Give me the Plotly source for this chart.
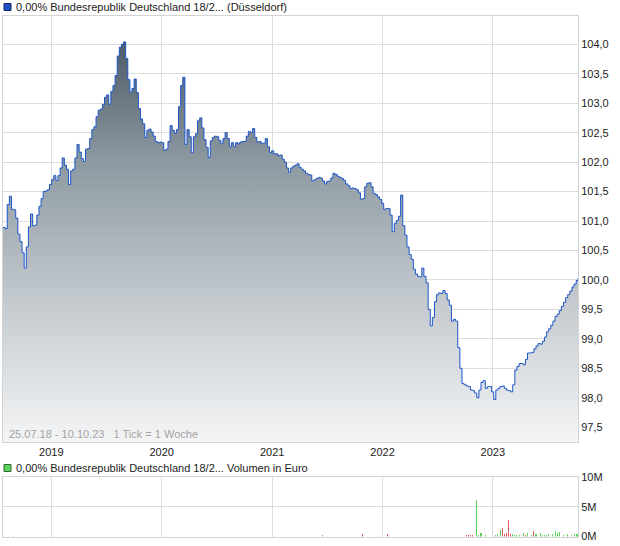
import pandas as pd
import plotly.graph_objects as go

# ---------------- data ----------------
start_date = "2018-07-25"
end_date = "2023-10-10"

prices = [
    100.89, 100.87, 101.28, 101.42, 101.20, 101.19, 101.05, 100.78, 100.65, 100.46,
    100.20, 100.56, 100.90, 101.12, 100.92, 100.93, 101.10, 101.25, 101.38, 101.50,
    101.51, 101.53, 101.62, 101.70, 101.77, 101.69, 101.77, 101.90, 102.07, 101.95,
    101.88, 101.62, 101.85, 101.88, 102.07, 102.30, 102.17, 102.06, 102.01, 102.22,
    102.23, 102.40, 102.55, 102.60, 102.77, 102.88, 102.90, 102.98, 103.10, 103.14,
    102.98, 103.20, 103.30, 103.47, 103.80, 103.95, 104.00, 104.04, 103.76, 103.40,
    103.19, 103.25, 103.41, 103.18, 102.91, 102.73, 102.65, 102.42, 102.54, 102.56,
    102.51, 102.44, 102.35, 102.33, 102.34, 102.33, 102.20, 102.22, 102.35, 102.62,
    102.54, 102.49, 102.55, 102.94, 103.30, 103.44, 102.30, 102.55, 102.43, 102.16,
    102.43, 102.48, 102.70, 102.75, 102.58, 102.38, 102.25, 102.08, 102.36, 102.42,
    102.44, 102.43, 102.37, 102.31, 102.40, 102.50, 102.40, 102.26, 102.33, 102.26,
    102.33, 102.31, 102.34, 102.35, 102.35, 102.44, 102.52, 102.50, 102.57, 102.42,
    102.34, 102.35, 102.32, 102.32, 102.40, 102.26, 102.16, 102.19, 102.14, 102.14,
    102.11, 102.12, 102.05, 102.00, 101.90, 101.83, 101.90, 101.93, 101.95, 101.97,
    101.91, 101.88, 101.85, 101.81, 101.79, 101.78, 101.68, 101.70, 101.72, 101.74,
    101.73, 101.68, 101.63, 101.67, 101.68, 101.73, 101.81, 101.79, 101.76, 101.74,
    101.72, 101.69, 101.63, 101.60, 101.55, 101.56, 101.55, 101.53, 101.48, 101.37,
    101.38, 101.58, 101.64, 101.65, 101.58, 101.47, 101.45, 101.41, 101.37, 101.30,
    101.20, 101.21, 101.21, 101.10, 100.82, 100.96, 101.01, 101.08, 101.44, 100.92,
    100.76, 100.56, 100.43, 100.35, 100.18, 100.10, 100.06, 100.05, 100.20, 100.06,
    99.95, 99.50, 99.22, 99.36, 99.63, 99.75, 99.78, 99.77, 99.82, 99.77,
    99.66, 99.57, 99.30, 99.33, 99.30, 98.85, 98.50, 98.24, 98.22, 98.20,
    98.19, 98.13, 98.12, 98.08, 98.00, 98.13, 98.26, 98.29, 98.16, 98.19,
    98.19, 98.10, 97.97, 98.13, 98.16, 98.19, 98.20, 98.16, 98.13, 98.12,
    98.10, 98.22, 98.47, 98.53, 98.58, 98.58, 98.56, 98.65, 98.76, 98.76,
    98.77, 98.83, 98.88, 98.92, 98.91, 98.96, 99.03, 99.12, 99.17, 99.23,
    99.30, 99.38, 99.42, 99.48, 99.55, 99.62, 99.70, 99.75, 99.81, 99.88,
    99.93, 99.99, 100.03,
]

# weekly volume (only weeks with turnover), week index into the price series
vol_weeks = [5, 151, 170, 182, 219, 220, 221, 222, 224, 225, 226, 228, 233, 234, 235,
             236, 237, 238, 239, 240, 241, 242, 243, 244, 246, 247, 248, 250, 251, 252,
             254, 255, 256, 257, 258, 260, 261, 262, 263, 265, 267, 269, 270, 271, 272]
vol_values = [0.1e6, 0.3e6, 0.5e6, 0.5e6, 0.3e6, 0.3e6, 0.3e6, 0.3e6, 6.1e6, 0.3e6,
              0.6e6, 0.2e6, 0.2e6, 0.5e6, 1.1e6, 1.35e6, 0.5e6, 0.6e6, 2.75e6, 0.5e6,
              0.5e6, 0.3e6, 0.3e6, 0.3e6, 0.6e6, 0.2e6, 0.6e6, 0.2e6, 0.9e6, 0.5e6,
              0.6e6, 0.3e6, 0.3e6, 0.2e6, 0.4e6, 0.5e6, 0.9e6, 0.6e6, 0.8e6, 0.2e6,
              0.4e6, 0.2e6, 0.4e6, 0.4e6, 0.4e6]
vol_direction = ["up", "up", "down", "down", "down", "down", "down", "down", "up", "up",
                 "up", "up", "up", "up", "up", "down", "down", "down", "down", "down",
                 "up", "up", "up", "up", "up", "down", "up", "up", "down", "up",
                 "up", "up", "up", "up", "up", "up", "up", "up", "up", "up",
                 "up", "up", "up", "up", "up"]

y_ticks = [97.5, 98.0, 98.5, 99.0, 99.5, 100.0, 100.5, 101.0, 101.5, 102.0, 102.5, 103.0, 103.5, 104.0]
vol_tick_vals = [0, 5e6, 10e6]
vol_tick_text = ["0M", "5M", "10M"]

title_main = "0,00% Bundesrepublik Deutschland 18/2... (Düsseldorf)"
title_vol = "0,00% Bundesrepublik Deutschland 18/2... Volumen in Euro"
info_text = "25.07.18 - 10.10.23   1 Tick = 1 Woche"

# ---------------- build ----------------
dates = list(pd.date_range(start_date, periods=len(prices) - 1, freq="7D")) + [pd.Timestamp(end_date)]
vol_dates = [dates[i] for i in vol_weeks]
vol_colors = ["#5fd35f" if d == "up" else "#e25b5b" for d in vol_direction]

W, H = 620, 546
FONT = "Liberation Sans, Arial, sans-serif"
GRID = "#dddddd"
FRAME = "#d3d3d3"

def px(x):
    return x / W

def py(y):
    return 1 - y / H

fig = go.Figure()
fig.add_trace(go.Scatter(
    x=dates, y=prices, mode="lines",
    line=dict(color="#1c55c9", width=1, shape="hv"),
    fill="tozeroy",
    fillgradient=dict(type="vertical",
                      colorscale=[[0, "#f4f5f6"], [0.4, "#bcc3c8"], [0.7, "#8c98a0"], [1, "#4a5966"]],
                      start=97.25, stop=104.1),
    hoverinfo="skip", showlegend=False, xaxis="x", yaxis="y",
))
fig.add_trace(go.Bar(
    x=vol_dates, y=vol_values, marker=dict(color=vol_colors, line=dict(width=0)),
    width=3.5 * 86400000, hoverinfo="skip", showlegend=False, xaxis="x2", yaxis="y2",
))

x_dom = [px(3), px(578)]
common_x = dict(domain=x_dom, type="date", range=[start_date, end_date],
                showgrid=True, gridcolor=GRID, gridwidth=1, dtick="M12", tick0="2019-01-01",
                showline=True, linecolor=FRAME, linewidth=1, mirror=True, ticks="",
                zeroline=False, fixedrange=True, automargin=False)
fig.update_layout(
    template="none",
    width=W, height=H, autosize=False,
    margin=dict(l=0, r=0, t=0, b=0, pad=0),
    paper_bgcolor="white", plot_bgcolor="white",
    separators=",.",
    font=dict(family=FONT, size=11, color="#222222"),
    hovermode=False,
    bargap=0,
    xaxis=dict(**common_x, anchor="y", tickformat="%Y", tickfont=dict(size=11, color="#222222")),
    yaxis=dict(domain=[py(441.7), py(16)], range=[97.254, 104.48], side="right",
               tickvals=y_ticks, tickformat=".1f", showgrid=True, gridcolor=GRID,
               showline=True, linecolor=FRAME, mirror=True, ticks="", zeroline=False,
               tickfont=dict(size=11, color="#222222"), anchor="x", fixedrange=True,
               automargin=False),
    xaxis2=dict(**common_x, anchor="y2", showticklabels=False),
    yaxis2=dict(domain=[py(536.5), py(477)], range=[0, 10e6], side="right",
                tickvals=vol_tick_vals, ticktext=vol_tick_text, showgrid=True, gridcolor=GRID,
                showline=True, linecolor=FRAME, mirror=True, ticks="", zeroline=False,
                tickfont=dict(size=11, color="#222222"), anchor="x2", fixedrange=True,
                automargin=False),
)

# legend-like headers
fig.add_shape(type="rect", xref="paper", yref="paper", x0=px(4), x1=px(11), y0=py(10.5), y1=py(3.5),
              fillcolor="#1f50c8", line=dict(color="#102a6a", width=1))
fig.add_shape(type="rect", xref="paper", yref="paper", x0=px(4), x1=px(11), y0=py(471.5), y1=py(464.5),
              fillcolor="#5fd35f", line=dict(color="#2b6b2b", width=1))
fig.add_annotation(xref="paper", yref="paper", x=px(14), y=py(7), text=title_main, showarrow=False,
                   xanchor="left", yanchor="middle", font=dict(size=11, color="#222222"))
fig.add_annotation(xref="paper", yref="paper", x=px(14), y=py(468), text=title_vol, showarrow=False,
                   xanchor="left", yanchor="middle", font=dict(size=11, color="#222222"))
fig.add_annotation(xref="paper", yref="paper", x=px(7), y=py(434), text=info_text, showarrow=False,
                   xanchor="left", yanchor="middle", font=dict(size=11, color="#a3a3a3"))

fig.write_html("out.html", config={"displayModeBar": False, "staticPlot": True},
               post_script="document.body.style.margin='0';document.body.style.overflow='hidden';")
